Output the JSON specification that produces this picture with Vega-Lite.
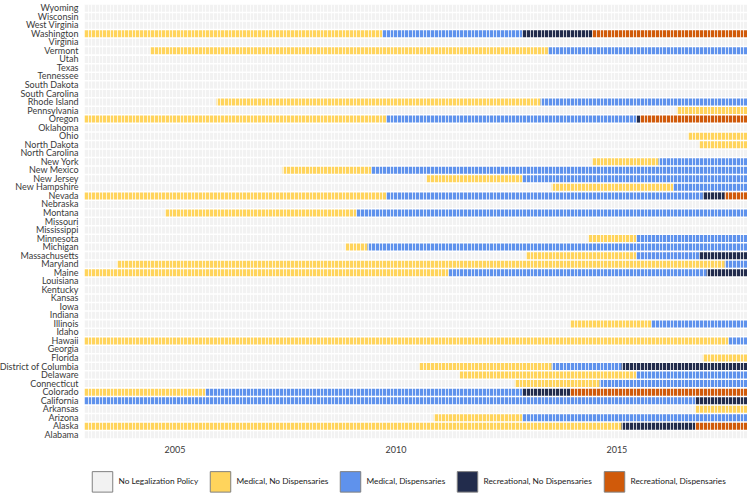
{
  "$schema": "https://vega.github.io/schema/vega-lite/v6.json",
  "width": 663,
  "height": 435,
  "autosize": {"type": "none"},
  "padding": {"left": 84, "top": 4, "right": 3, "bottom": 54},
  "background": "white",
  "config": {"view": {"stroke": null}, "font": "Lato"},
  "data": {"values": [
    {"state": "Alabama", "start": "2003-01", "end": "2018-01", "status": "No Legalization Policy"},
    {"state": "Alaska", "start": "2003-01", "end": "2015-03", "status": "Medical, No Dispensaries"},
    {"state": "Alaska", "start": "2015-03", "end": "2016-11", "status": "Recreational, No Dispensaries"},
    {"state": "Alaska", "start": "2016-11", "end": "2018-01", "status": "Recreational, Dispensaries"},
    {"state": "Arizona", "start": "2003-01", "end": "2010-12", "status": "No Legalization Policy"},
    {"state": "Arizona", "start": "2010-12", "end": "2012-12", "status": "Medical, No Dispensaries"},
    {"state": "Arizona", "start": "2012-12", "end": "2018-01", "status": "Medical, Dispensaries"},
    {"state": "Arkansas", "start": "2003-01", "end": "2016-11", "status": "No Legalization Policy"},
    {"state": "Arkansas", "start": "2016-11", "end": "2018-01", "status": "Medical, No Dispensaries"},
    {"state": "California", "start": "2003-01", "end": "2016-11", "status": "Medical, Dispensaries"},
    {"state": "California", "start": "2016-11", "end": "2018-01", "status": "Recreational, No Dispensaries"},
    {"state": "Colorado", "start": "2003-01", "end": "2005-10", "status": "Medical, No Dispensaries"},
    {"state": "Colorado", "start": "2005-10", "end": "2012-12", "status": "Medical, Dispensaries"},
    {"state": "Colorado", "start": "2012-12", "end": "2014-01", "status": "Recreational, No Dispensaries"},
    {"state": "Colorado", "start": "2014-01", "end": "2018-01", "status": "Recreational, Dispensaries"},
    {"state": "Connecticut", "start": "2003-01", "end": "2012-10", "status": "No Legalization Policy"},
    {"state": "Connecticut", "start": "2012-10", "end": "2014-09", "status": "Medical, No Dispensaries"},
    {"state": "Connecticut", "start": "2014-09", "end": "2018-01", "status": "Medical, Dispensaries"},
    {"state": "Delaware", "start": "2003-01", "end": "2011-07", "status": "No Legalization Policy"},
    {"state": "Delaware", "start": "2011-07", "end": "2015-07", "status": "Medical, No Dispensaries"},
    {"state": "Delaware", "start": "2015-07", "end": "2018-01", "status": "Medical, Dispensaries"},
    {"state": "District of Columbia", "start": "2003-01", "end": "2010-08", "status": "No Legalization Policy"},
    {"state": "District of Columbia", "start": "2010-08", "end": "2013-08", "status": "Medical, No Dispensaries"},
    {"state": "District of Columbia", "start": "2013-08", "end": "2015-03", "status": "Medical, Dispensaries"},
    {"state": "District of Columbia", "start": "2015-03", "end": "2018-01", "status": "Recreational, No Dispensaries"},
    {"state": "Florida", "start": "2003-01", "end": "2017-01", "status": "No Legalization Policy"},
    {"state": "Florida", "start": "2017-01", "end": "2018-01", "status": "Medical, No Dispensaries"},
    {"state": "Georgia", "start": "2003-01", "end": "2018-01", "status": "No Legalization Policy"},
    {"state": "Hawaii", "start": "2003-01", "end": "2017-08", "status": "Medical, No Dispensaries"},
    {"state": "Hawaii", "start": "2017-08", "end": "2018-01", "status": "Medical, Dispensaries"},
    {"state": "Idaho", "start": "2003-01", "end": "2018-01", "status": "No Legalization Policy"},
    {"state": "Illinois", "start": "2003-01", "end": "2014-01", "status": "No Legalization Policy"},
    {"state": "Illinois", "start": "2014-01", "end": "2015-11", "status": "Medical, No Dispensaries"},
    {"state": "Illinois", "start": "2015-11", "end": "2018-01", "status": "Medical, Dispensaries"},
    {"state": "Indiana", "start": "2003-01", "end": "2018-01", "status": "No Legalization Policy"},
    {"state": "Iowa", "start": "2003-01", "end": "2018-01", "status": "No Legalization Policy"},
    {"state": "Kansas", "start": "2003-01", "end": "2018-01", "status": "No Legalization Policy"},
    {"state": "Kentucky", "start": "2003-01", "end": "2018-01", "status": "No Legalization Policy"},
    {"state": "Louisiana", "start": "2003-01", "end": "2018-01", "status": "No Legalization Policy"},
    {"state": "Maine", "start": "2003-01", "end": "2011-04", "status": "Medical, No Dispensaries"},
    {"state": "Maine", "start": "2011-04", "end": "2017-02", "status": "Medical, Dispensaries"},
    {"state": "Maine", "start": "2017-02", "end": "2018-01", "status": "Recreational, No Dispensaries"},
    {"state": "Maryland", "start": "2003-01", "end": "2003-10", "status": "No Legalization Policy"},
    {"state": "Maryland", "start": "2003-10", "end": "2017-07", "status": "Medical, No Dispensaries"},
    {"state": "Maryland", "start": "2017-07", "end": "2018-01", "status": "Medical, Dispensaries"},
    {"state": "Massachusetts", "start": "2003-01", "end": "2013-01", "status": "No Legalization Policy"},
    {"state": "Massachusetts", "start": "2013-01", "end": "2015-07", "status": "Medical, No Dispensaries"},
    {"state": "Massachusetts", "start": "2015-07", "end": "2016-12", "status": "Medical, Dispensaries"},
    {"state": "Massachusetts", "start": "2016-12", "end": "2018-01", "status": "Recreational, No Dispensaries"},
    {"state": "Michigan", "start": "2003-01", "end": "2008-12", "status": "No Legalization Policy"},
    {"state": "Michigan", "start": "2008-12", "end": "2009-06", "status": "Medical, No Dispensaries"},
    {"state": "Michigan", "start": "2009-06", "end": "2018-01", "status": "Medical, Dispensaries"},
    {"state": "Minnesota", "start": "2003-01", "end": "2014-06", "status": "No Legalization Policy"},
    {"state": "Minnesota", "start": "2014-06", "end": "2015-07", "status": "Medical, No Dispensaries"},
    {"state": "Minnesota", "start": "2015-07", "end": "2018-01", "status": "Medical, Dispensaries"},
    {"state": "Mississippi", "start": "2003-01", "end": "2018-01", "status": "No Legalization Policy"},
    {"state": "Missouri", "start": "2003-01", "end": "2018-01", "status": "No Legalization Policy"},
    {"state": "Montana", "start": "2003-01", "end": "2004-11", "status": "No Legalization Policy"},
    {"state": "Montana", "start": "2004-11", "end": "2009-03", "status": "Medical, No Dispensaries"},
    {"state": "Montana", "start": "2009-03", "end": "2018-01", "status": "Medical, Dispensaries"},
    {"state": "Nebraska", "start": "2003-01", "end": "2018-01", "status": "No Legalization Policy"},
    {"state": "Nevada", "start": "2003-01", "end": "2009-11", "status": "Medical, No Dispensaries"},
    {"state": "Nevada", "start": "2009-11", "end": "2017-01", "status": "Medical, Dispensaries"},
    {"state": "Nevada", "start": "2017-01", "end": "2017-07", "status": "Recreational, No Dispensaries"},
    {"state": "Nevada", "start": "2017-07", "end": "2018-01", "status": "Recreational, Dispensaries"},
    {"state": "New Hampshire", "start": "2003-01", "end": "2013-08", "status": "No Legalization Policy"},
    {"state": "New Hampshire", "start": "2013-08", "end": "2016-05", "status": "Medical, No Dispensaries"},
    {"state": "New Hampshire", "start": "2016-05", "end": "2018-01", "status": "Medical, Dispensaries"},
    {"state": "New Jersey", "start": "2003-01", "end": "2010-10", "status": "No Legalization Policy"},
    {"state": "New Jersey", "start": "2010-10", "end": "2012-12", "status": "Medical, No Dispensaries"},
    {"state": "New Jersey", "start": "2012-12", "end": "2018-01", "status": "Medical, Dispensaries"},
    {"state": "New Mexico", "start": "2003-01", "end": "2007-07", "status": "No Legalization Policy"},
    {"state": "New Mexico", "start": "2007-07", "end": "2009-07", "status": "Medical, No Dispensaries"},
    {"state": "New Mexico", "start": "2009-07", "end": "2018-01", "status": "Medical, Dispensaries"},
    {"state": "New York", "start": "2003-01", "end": "2014-07", "status": "No Legalization Policy"},
    {"state": "New York", "start": "2014-07", "end": "2016-01", "status": "Medical, No Dispensaries"},
    {"state": "New York", "start": "2016-01", "end": "2018-01", "status": "Medical, Dispensaries"},
    {"state": "North Carolina", "start": "2003-01", "end": "2018-01", "status": "No Legalization Policy"},
    {"state": "North Dakota", "start": "2003-01", "end": "2016-12", "status": "No Legalization Policy"},
    {"state": "North Dakota", "start": "2016-12", "end": "2018-01", "status": "Medical, No Dispensaries"},
    {"state": "Ohio", "start": "2003-01", "end": "2016-09", "status": "No Legalization Policy"},
    {"state": "Ohio", "start": "2016-09", "end": "2018-01", "status": "Medical, No Dispensaries"},
    {"state": "Oklahoma", "start": "2003-01", "end": "2018-01", "status": "No Legalization Policy"},
    {"state": "Oregon", "start": "2003-01", "end": "2009-11", "status": "Medical, No Dispensaries"},
    {"state": "Oregon", "start": "2009-11", "end": "2015-07", "status": "Medical, Dispensaries"},
    {"state": "Oregon", "start": "2015-07", "end": "2015-08", "status": "Recreational, No Dispensaries"},
    {"state": "Oregon", "start": "2015-08", "end": "2018-01", "status": "Recreational, Dispensaries"},
    {"state": "Pennsylvania", "start": "2003-01", "end": "2016-06", "status": "No Legalization Policy"},
    {"state": "Pennsylvania", "start": "2016-06", "end": "2018-01", "status": "Medical, No Dispensaries"},
    {"state": "Rhode Island", "start": "2003-01", "end": "2006-01", "status": "No Legalization Policy"},
    {"state": "Rhode Island", "start": "2006-01", "end": "2013-05", "status": "Medical, No Dispensaries"},
    {"state": "Rhode Island", "start": "2013-05", "end": "2018-01", "status": "Medical, Dispensaries"},
    {"state": "South Carolina", "start": "2003-01", "end": "2018-01", "status": "No Legalization Policy"},
    {"state": "South Dakota", "start": "2003-01", "end": "2018-01", "status": "No Legalization Policy"},
    {"state": "Tennessee", "start": "2003-01", "end": "2018-01", "status": "No Legalization Policy"},
    {"state": "Texas", "start": "2003-01", "end": "2018-01", "status": "No Legalization Policy"},
    {"state": "Utah", "start": "2003-01", "end": "2018-01", "status": "No Legalization Policy"},
    {"state": "Vermont", "start": "2003-01", "end": "2004-07", "status": "No Legalization Policy"},
    {"state": "Vermont", "start": "2004-07", "end": "2013-07", "status": "Medical, No Dispensaries"},
    {"state": "Vermont", "start": "2013-07", "end": "2018-01", "status": "Medical, Dispensaries"},
    {"state": "Virginia", "start": "2003-01", "end": "2018-01", "status": "No Legalization Policy"},
    {"state": "Washington", "start": "2003-01", "end": "2009-10", "status": "Medical, No Dispensaries"},
    {"state": "Washington", "start": "2009-10", "end": "2012-12", "status": "Medical, Dispensaries"},
    {"state": "Washington", "start": "2012-12", "end": "2014-07", "status": "Recreational, No Dispensaries"},
    {"state": "Washington", "start": "2014-07", "end": "2018-01", "status": "Recreational, Dispensaries"},
    {"state": "West Virginia", "start": "2003-01", "end": "2018-01", "status": "No Legalization Policy"},
    {"state": "Wisconsin", "start": "2003-01", "end": "2018-01", "status": "No Legalization Policy"},
    {"state": "Wyoming", "start": "2003-01", "end": "2018-01", "status": "No Legalization Policy"}
  ]},
  "mark": {"type": "rect"},
  "encoding": {
    "y": {
      "field": "state", "type": "nominal", "sort": "descending",
      "scale": {"paddingInner": 0.18, "paddingOuter": 0.08},
      "axis": {"title": null, "ticks": false, "domain": false, "labelFontSize": 9, "labelColor": "#3a3a3a", "labelPadding": 6}
    },
    "x": {
      "field": "start", "type": "temporal",
      "scale": {"type": "utc", "nice": false, "domain": [{"year": 2003, "month": 1, "date": 1, "utc": true}, {"year": 2018, "month": 1, "date": 1, "utc": true}]},
      "axis": {
        "title": null, "ticks": false, "domain": false,
        "tickCount": {"interval": "month", "step": 1},
        "grid": true, "gridColor": "#ffffff", "gridWidth": 1, "gridOpacity": 0.75, "zindex": 1,
        "labelExpr": "utcmonth(datum.value) == 0 && utcyear(datum.value) % 5 == 0 ? '' + utcyear(datum.value) : ''",
        "labelOverlap": false, "labelFlush": false, "labelBound": false,
        "labelFontSize": 9, "labelColor": "#3a3a3a", "labelPadding": 6, "labelOffset": 2
      }
    },
    "x2": {"field": "end"},
    "color": {
      "field": "status", "type": "nominal",
      "scale": {
        "domain": ["No Legalization Policy", "Medical, No Dispensaries", "Medical, Dispensaries", "Recreational, No Dispensaries", "Recreational, Dispensaries"],
        "range": ["#f2f2f2", "#ffd45c", "#5f92ec", "#222c4c", "#d05a0a"]
      },
      "legend": {
        "orient": "none", "legendX": 7.5, "legendY": 466.5, "padding": 0,
        "direction": "horizontal", "title": null,
        "symbolType": "M-1,-1H1V1H-1Z", "symbolSize": 420,
        "symbolStrokeColor": "#808080", "symbolStrokeWidth": 1, "symbolOpacity": 1,
        "labelFontSize": 8.3, "labelColor": "#222222", "labelOffset": 5, "columnPadding": 9,
        "encode": {"symbols": {"update": {"stroke": {"value": "#808080"}, "strokeWidth": {"value": 1}}}}
      }
    }
  }
}
